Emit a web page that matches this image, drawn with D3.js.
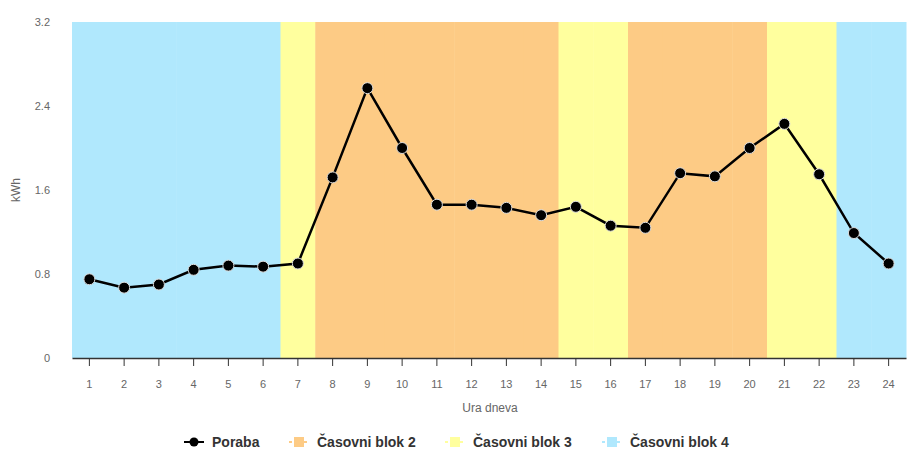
<!DOCTYPE html>
<html><head><meta charset="utf-8">
<script src="https://cdn.jsdelivr.net/npm/d3@7"></script>
<style>body{margin:0;background:#fff}svg{display:block;font-family:"Liberation Sans",Arial,sans-serif}</style>
</head><body><svg id="c" width="910" height="452"></svg>
<script>
const hours = ["1","2","3","4","5","6","7","8","9","10","11","12","13","14","15","16","17","18","19","20","21","22","23","24"];
const poraba = [0.75,0.67,0.70,0.84,0.88,0.87,0.90,1.72,2.57,2.00,1.46,1.46,1.43,1.36,1.44,1.26,1.24,1.76,1.73,2.00,2.23,1.75,1.19,0.90];
const blockOfHour = [4,4,4,4,4,4,3,2,2,2,2,2,2,2,3,3,2,2,2,2,3,3,4,4];
const blockNames = ["Časovni blok 2","Časovni blok 3","Časovni blok 4"];
const blockIds = [2,3,4];
const blockColors = ["#FDCB85","#FFFF9E","#B0E8FD"];
const yTicks = [0,0.8,1.6,2.4,3.2];

const svg = d3.select("#c");
const m = {l:72, r:4, t:22, b:94};
const W = 910, H = 452;
const x = d3.scaleBand().domain(hours).range([m.l, W-m.r]).padding(0);
const y = d3.scaleLinear().domain([0,3.2]).range([H-m.b, m.t]);
const colorOf = d3.scaleOrdinal().domain(blockIds).range(blockColors);

svg.append("g").selectAll("rect").data(hours).join("rect")
  .attr("x", d=>x(d)).attr("width", x.bandwidth()+0.5)
  .attr("y", y(3.2)).attr("height", y(0)-y(3.2))
  .attr("fill", (d,i)=>colorOf(blockOfHour[i]));

const ya = svg.append("g").attr("transform",`translate(${m.l},0)`)
  .call(d3.axisLeft(y).tickValues(yTicks).tickFormat(d=>d===0?"0":d3.format(".1f")(d)).tickSize(0).tickPadding(22));
ya.select(".domain").remove();
ya.selectAll("text").attr("fill","#666").attr("font-size","11px");

const xa = svg.append("g").attr("transform",`translate(0,${y(0)})`)
  .call(d3.axisBottom(x).tickSize(8).tickPadding(14).tickSizeOuter(0));
xa.select(".domain").attr("stroke","#333").attr("stroke-width",1.5);
xa.selectAll(".tick line").attr("stroke","#333");
xa.selectAll("text").attr("fill","#666").attr("font-size","11px");

svg.append("text").attr("x",490).attr("y",412).attr("text-anchor","middle")
  .attr("fill","#666").attr("font-size","12px").text("Ura dneva");
svg.append("text").attr("transform",`translate(20,${(m.t+H-m.b)/2}) rotate(-90)`)
  .attr("text-anchor","middle").attr("fill","#666").attr("font-size","12px").text("kWh");

const cx = (d,i)=>x(hours[i])+x.bandwidth()/2;
svg.append("path").datum(poraba)
  .attr("d", d3.line().x(cx).y(d=>y(d)))
  .attr("fill","none").attr("stroke","#000").attr("stroke-width",2.5);
svg.append("g").selectAll("circle").data(poraba).join("circle")
  .attr("cx",cx).attr("cy",d=>y(d)).attr("r",5.5)
  .attr("fill","#000").attr("stroke","#ddd").attr("stroke-width",1);

const lg = svg.append("g").attr("font-size","14px").attr("font-weight","bold");
const items = [{name:"Poraba", color:"#000", line:true}].concat(blockNames.map((n,i)=>({name:n,color:blockColors[i]})));
const lx = [184, 289, 445, 602];
items.forEach((it,i)=>{
  const g = lg.append("g").attr("transform",`translate(${lx[i]},442)`);
  g.append("line").attr("x1",0).attr("x2",20).attr("y1",0).attr("y2",0).attr("stroke",it.color).attr("stroke-width",2)
    .attr("stroke-dasharray", it.line? null : "3,2");
  if(it.line) g.append("circle").attr("cx",10).attr("cy",0).attr("r",4.5).attr("fill","#000");
  else g.append("rect").attr("x",5).attr("y",-5).attr("width",10).attr("height",10).attr("fill",it.color);
  g.append("text").attr("x",28).attr("y",5).attr("fill","#333").text(it.name);
});
</script></body></html>
